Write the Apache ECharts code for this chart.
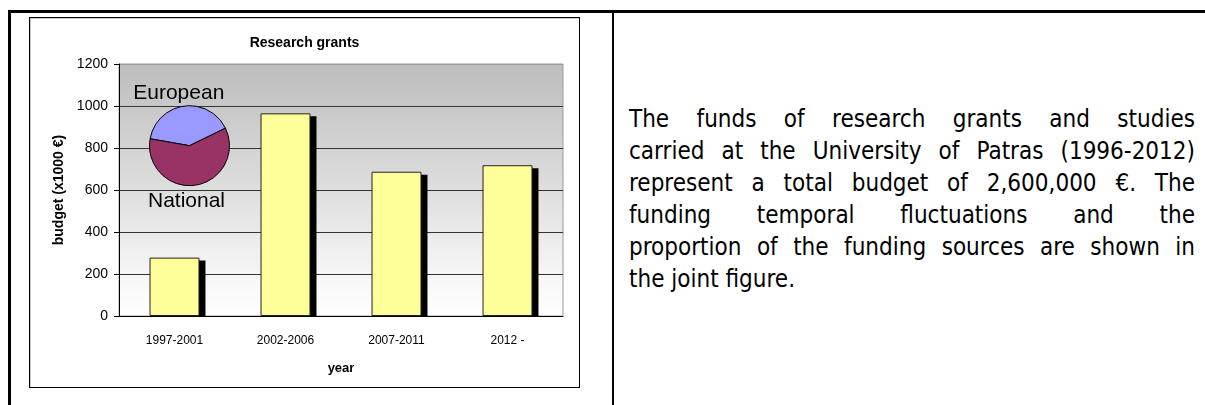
<!DOCTYPE html>
<html lang="en">
<head>
<meta charset="UTF-8">
<title>Research grants</title>
<script src="https://cdn.jsdelivr.net/npm/echarts@6.0.0/dist/echarts.min.js"></script>
<style>
  body { margin: 0; background: #fff; }
  #page { position: relative; width: 1205px; height: 405px; overflow: hidden; }
  #frame { position: absolute; left: 8px; top: 10px; width: 1300px; height: 500px;
           border-left: 3px solid #000; border-top: 3px solid #000; }
  #divider { position: absolute; left: 612px; top: 10px; width: 2px; height: 420px; background: #000; }
  #main { position: absolute; left: 29px; top: 17px; width: 549px; height: 369px;
          border: 1px solid #000; box-shadow: inset 1px 1px 0 #c8c8c8; }
  #note { position: absolute; left: 629px; top: 103px; width: 566px;
          font-family: 'DejaVu Sans Condensed', 'DejaVu Sans', sans-serif; font-stretch: condensed;
          font-size: 24px; line-height: 32px; color: #000; }
  #note div { text-align: justify; text-align-last: justify; }
  #note div.last { text-align-last: left; }
</style>
</head>
<body>
<div id="page">
  <div id="frame"></div>
  <div id="divider"></div>
  <div id="main"></div>
  <div id="note">
    <div>The funds of research grants and studies</div>
    <div>carried at the University of Patras (1996-2012)</div>
    <div>represent a total budget of 2,600,000 €. The</div>
    <div>funding temporal fluctuations and the</div>
    <div>proportion of the funding sources are shown in</div>
    <div class="last">the joint figure.</div>
  </div>
</div>
<script>
  // budget per period, in thousands of euro
  var periods = ['1997-2001', '2002-2006', '2007-2011', '2012 -'];
  var budget = [278, 965, 687, 718];
  // share of the funding sources (%)
  var sourceNames = ['European', 'National'];
  var sourceShares = [40, 60];
  var sourceColors = ['#9999ff', '#993366'];

  var arial = "'Liberation Sans', Arial, sans-serif";
  var barRatio = 0.45;

  var pieData = sourceNames.map(function (n, i) {
    return { name: n, value: sourceShares[i], itemStyle: { color: sourceColors[i] } };
  });

  // black drop shadow behind each column, stopped at the x axis
  function renderShadow(params, api) {
    var top = api.coord([api.value(0), api.value(1)]);
    var base = api.coord([api.value(0), 0]);
    var w = api.size([1, 0])[0] * barRatio;
    return {
      type: 'rect',
      shape: { x: top[0] - w / 2 + 6, y: top[1] + 3, width: w, height: base[1] - top[1] - 3 },
      style: { fill: '#000' }
    };
  }

  var option = {
    animation: false,
    title: {
      text: 'Research grants',
      left: 'center',
      top: 13,
      textStyle: { fontFamily: arial, fontSize: 14, fontWeight: 'bold', color: '#000' }
    },
    grid: {
      left: 89, right: 16, top: 46, bottom: 71,
      outerBoundsMode: 'none',
      show: true,
      borderColor: '#999',
      borderWidth: 1,
      backgroundColor: {
        type: 'linear', x: 0, y: 0, x2: 0, y2: 1,
        colorStops: [
          { offset: 0, color: '#bdbdbd' },
          { offset: 0.5, color: '#dedede' },
          { offset: 0.85, color: '#f7f7f7' },
          { offset: 1, color: '#ffffff' }
        ]
      }
    },
    xAxis: {
      type: 'category',
      data: periods,
      name: 'year',
      nameLocation: 'middle',
      nameGap: 46,
      nameMoveOverlap: false,
      nameTextStyle: { fontFamily: arial, fontSize: 13, fontWeight: 'bold', color: '#000' },
      axisLine: { lineStyle: { color: '#000' } },
      axisTick: { length: 5, lineStyle: { color: '#000' } },
      axisLabel: { margin: 19, color: '#000', fontFamily: arial, fontSize: 12 }
    },
    yAxis: {
      type: 'value',
      min: 0, max: 1200, interval: 200,
      name: 'budget (x1000 €)',
      nameLocation: 'middle',
      nameRotate: 90,
      nameGap: 53,
      nameMoveOverlap: false,
      nameTextStyle: { fontFamily: arial, fontSize: 14, fontWeight: 'bold', color: '#000' },
      axisLine: { show: true, lineStyle: { color: '#000' } },
      axisTick: { show: true, length: 5, lineStyle: { color: '#000' } },
      axisLabel: {
        margin: 11, color: '#000', fontFamily: arial, fontSize: 14,
        formatter: function (v) { return String(v); }
      },
      splitLine: { lineStyle: { color: ['#333', '#333', '#333', '#333', '#333', '#333', '#999'], width: 1 } }
    },
    series: [
      {
        name: 'shadow',
        type: 'custom',
        silent: true,
        z: 1,
        data: budget.map(function (v, i) { return [i, v]; }),
        renderItem: renderShadow
      },
      {
        name: 'budget',
        type: 'bar',
        z: 2,
        data: budget,
        barWidth: (barRatio * 100) + '%',
        itemStyle: { color: '#ffff99', borderColor: '#222', borderWidth: 1 }
      },
      {
        name: 'sources',
        type: 'pie',
        z: 5,
        center: [159.5, 127.7],
        radius: 40,
        startAngle: 170,
        data: pieData,
        itemStyle: { borderColor: '#000', borderWidth: 1 },
        label: { show: true, formatter: '{b}', fontFamily: arial, fontSize: 21, color: '#000' },
        labelLine: { show: false },
        labelLayout: function (p) {
          var r = p.rect;
          if (p.dataIndex === 0) {
            return { x: r.x + r.width / 2 - 9, y: r.y - 12, align: 'center', verticalAlign: 'middle' };
          }
          return { x: r.x + r.width / 2 - 3, y: r.y + r.height + 15, align: 'center', verticalAlign: 'middle' };
        },
        emphasis: { disabled: true }
      }
    ]
  };

  var myChart = echarts.init(document.getElementById('main'));
  myChart.setOption(option);
</script>
</body>
</html>
